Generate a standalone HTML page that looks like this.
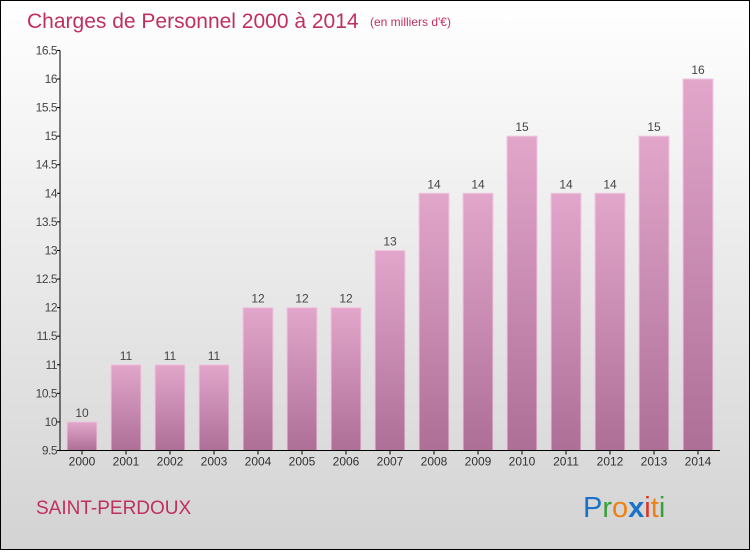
<!DOCTYPE html>
<html><head><meta charset="utf-8"><style>
body{margin:0;width:750px;height:550px;overflow:hidden;font-family:"Liberation Sans",sans-serif}
</style></head><body>
<svg id="c" width="750" height="550" xmlns="http://www.w3.org/2000/svg">
<defs>
<linearGradient id="bg" x1="0" y1="0" x2="0" y2="1"><stop offset="0" stop-color="#ffffff"/><stop offset="1" stop-color="#d3d3d3"/></linearGradient>
<linearGradient id="bar" x1="0" y1="0" x2="0" y2="1"><stop offset="0" stop-color="#e3a6cb"/><stop offset="1" stop-color="#ad6f96"/></linearGradient>
</defs>
<rect x="0.5" y="0.5" width="749" height="549" fill="url(#bg)" stroke="#000"/>
<text x="27" y="28" font-size="21" fill="#c0305e">Charges de Personnel 2000 à 2014</text>
<text x="370" y="26" font-size="12" fill="#c0305e">(en milliers d'€)</text>
<text x="36" y="514" font-size="19" fill="#c0305e">SAINT-PERDOUX</text>
<g font-size="29" font-family="'Liberation Sans',sans-serif">
<text x="583" y="517"><tspan fill="#1a73c8">P</tspan><tspan fill="#3aa03a">r</tspan><tspan fill="#f08010">o</tspan><tspan fill="#1a73c8" font-weight="bold">x</tspan><tspan fill="#e03020">i</tspan><tspan fill="#f08010">t</tspan><tspan fill="#3aa03a">i</tspan></text>
</g>
<g id="plot"></g>
</svg>
<script>
const years=["2000","2001","2002","2003","2004","2005","2006","2007","2008","2009","2010","2011","2012","2013","2014"];
const values=[10,11,11,11,12,12,12,13,14,14,15,14,14,15,16];
const labels=["10","11","11","11","12","12","12","13","14","14","15","14","14","15","16"];
const ticks=["9.5","10","10.5","11","11.5","12","12.5","13","13.5","14","14.5","15","15.5","16","16.5"];
const NS="http://www.w3.org/2000/svg";
const plotG=document.getElementById('plot');
const yMin=9.5,yMax=16.5,yTop=50.4,yBot=450.5,xLeft=60,band=44,bw=30;
const ys=v=>yBot-(v-yMin)/(yMax-yMin)*(yBot-yTop);
const xs=i=>xLeft+band*i+band/2;
function mk(t,a){const e=document.createElementNS(NS,t);for(const k in a)e.setAttribute(k,a[k]);plotG.appendChild(e);return e;}
values.forEach((v,i)=>{
 const r=mk('rect',{x:xs(i)-bw/2,y:ys(v),width:bw,height:yBot-ys(v),fill:'url(#bar)',stroke:'#f0c8e0','stroke-width':1});
 
 
 const t=mk('text',{x:xs(i),y:ys(v)-5,'font-size':12,fill:'#444','text-anchor':'middle'});t.textContent=labels[i];
 
 
 const xl=mk('text',{x:xs(i),y:yBot+15,'font-size':12,fill:'#333','text-anchor':'middle'});xl.textContent=years[i];
 
 
 mk('line',{x1:xs(i),x2:xs(i),y1:yBot,y2:yBot+4,stroke:'#000'});
});
ticks.forEach(t=>{
 const yy=ys(parseFloat(t));
 mk('line',{x1:xLeft-3,x2:xLeft,y1:yy,y2:yy,stroke:'#000'});
 const e=mk('text',{x:xLeft-3,y:yy+4,'font-size':12,fill:'#444','text-anchor':'end','letter-spacing':'-0.5'});e.textContent=t;
 
 
});
const ya=mk('line',{x1:xLeft,x2:xLeft,y1:yTop,y2:yBot,stroke:'#000'});


const xa=mk('line',{x1:xLeft,x2:xLeft+band*years.length,y1:yBot,y2:yBot,stroke:'#000'});


</script>
</body></html>
